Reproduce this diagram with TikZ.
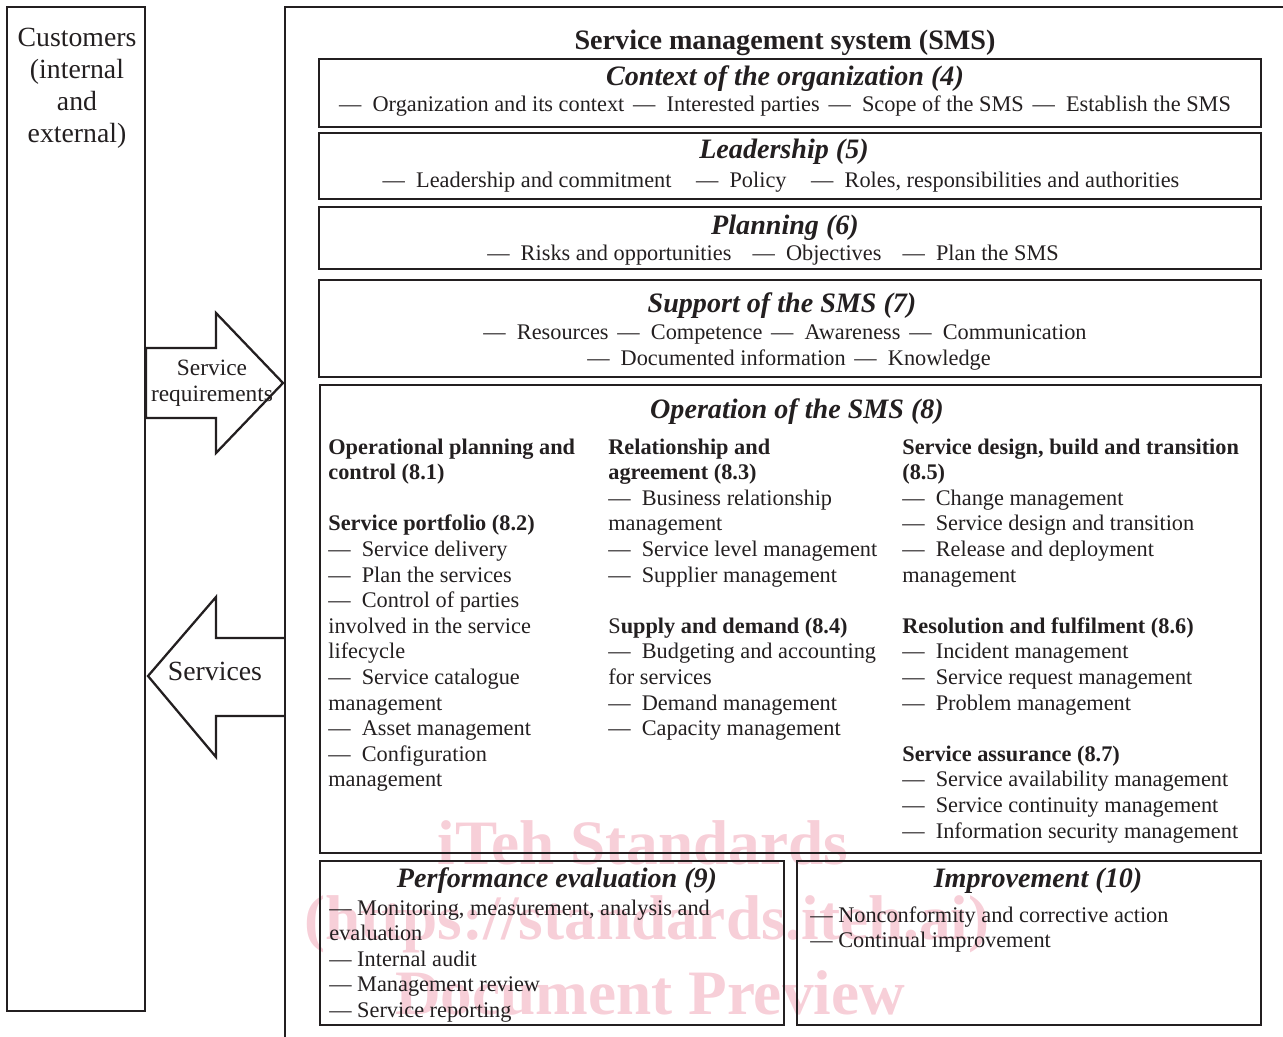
\documentclass[tikz,border=0pt]{standalone}
\usepackage{fontspec}
\setmainfont{Liberation Serif}
\usetikzlibrary{positioning}

\definecolor{ink}{RGB}{35,31,32}
\definecolor{wmpink}{RGB}{247,207,216}

\newcommand{\itm}{—\enspace}
\newcommand{\itemgap}{\hspace{5pt}}
\newcommand{\widegap}{\hspace{14pt}}

\begin{document}
\begin{tikzpicture}[x=0.02cm, y=-0.02cm]

\tikzset{box/.style = {draw=ink, line width=1.3pt}}
\tikzset{item/.style = {font=\fontsize{12.7}{14.6}\selectfont, text=ink, inner sep=0pt}}
\tikzset{title/.style = {font=\fontsize{16}{19}\selectfont\bfseries\itshape, text=ink, inner sep=0pt, anchor=base}}
\tikzset{label/.style = {font=\fontsize{15.8}{18}\selectfont, text=ink, inner sep=0pt, anchor=base}}
\tikzset{wmark/.style = {font=\fontsize{36}{42}\selectfont\bfseries, text=wmpink, inner sep=0pt, anchor=base}}

\useasboundingbox (0,0) rectangle (1283,1036);
\clip (0,0) rectangle (1283,1036);

% watermark
\node[wmark] (wm1) at (643,864) {iTeh Standards};
\node[wmark] (wm2) at (647,939) {(https://standards.iteh.ai)};
\node[wmark] (wm3) at (650,1014) {Document Preview};

% frames
\draw[box] (7,7) rectangle (145,1011);
\draw[box] (285,7) rectangle (1300,1060);

% clause boxes
\draw[box] (319,59) rectangle (1261,127);
\draw[box] (319,133) rectangle (1261,199);
\draw[box] (319,207) rectangle (1261,269);
\draw[box] (319,280) rectangle (1261,377);
\draw[box] (320,385) rectangle (1261,853);
\draw[box] (320,861) rectangle (784,1025);
\draw[box] (797,861) rectangle (1261,1025);

% arrows
\draw[box] (146,348) -- (216,348) -- (216,313) -- (283,383) -- (216,453) -- (216,418) -- (146,418) -- cycle;
\draw[box] (285,638) -- (216,638) -- (216,597) -- (148,676) -- (216,757) -- (216,716) -- (285,716);

% customers
\foreach \txt [count=\i from 0] in {Customers, {(internal}, and, {external)}}
  \node[label] (cust-\i) at (77,46+32*\i) {\txt};

% arrow labels
\node[item, font=\fontsize{13.3}{15}\selectfont, anchor=base] (req1) at (212,375) {Service};
\node[item, font=\fontsize{13.3}{15}\selectfont, anchor=base] (req2) at (212,401) {requirements};
\node[label] (serv) at (215,680) {Services};

% sms
\node[title, font=\fontsize{16}{19}\selectfont\bfseries] (sms) at (785,49) {Service management system (SMS)};

% context
\node[title] (ctx) at (785,85) {Context of the organization (4)};
\node[item, anchor=base] (ctx-items) at (785,111) {\itm Organization and its context\itemgap\itm Interested parties\itemgap\itm Scope of the SMS\itemgap\itm Establish the SMS};

% leadership
\node[title] (lead) at (784,158) {Leadership (5)};
\node[item, anchor=base] (lead-items) at (781,187) {\itm Leadership and commitment\widegap\itm Policy\widegap\itm Roles, responsibilities and authorities};

% planning
\node[title] (plan) at (785,234) {Planning (6)};
\node[item, anchor=base] (plan-items) at (773,260) {\itm Risks and opportunities\hspace{12pt}\itm Objectives\hspace{12pt}\itm Plan the SMS};

% support
\node[title] (supp) at (782,312) {Support of the SMS (7)};
\node[item, anchor=base] (supp-items1) at (785,339) {\itm Resources\itemgap\itm Competence\itemgap\itm Awareness\itemgap\itm Communication};
\node[item, anchor=base] (supp-items2) at (789,365) {\itm Documented information\itemgap\itm Knowledge};

% operation
\node[title] (oper) at (797,418) {Operation of the SMS (8)};

\foreach \txt [count=\i from 0] in {
  \textbf{Operational planning and}, \textbf{control (8.1)}, {},
  \textbf{Service portfolio (8.2)}, \itm Service delivery, \itm Plan the services,
  \itm Control of parties, involved in the service, lifecycle,
  \itm Service catalogue, management, \itm Asset management,
  \itm Configuration, management}
  \node[item, anchor=base west] (opa-\i) at (328,454+25.6*\i) {\txt};

\foreach \txt [count=\i from 0] in {
  \textbf{Relationship and}, \textbf{agreement (8.3)}, \itm Business relationship,
  management, \itm Service level management, \itm Supplier management, {},
  {S\textbf{upply and demand (8.4)}}, \itm Budgeting and accounting, for services,
  \itm Demand management, \itm Capacity management}
  \node[item, anchor=base west] (opb-\i) at (608,454+25.6*\i) {\txt};

\foreach \txt [count=\i from 0] in {
  {\textbf{Service design, build and transition}}, \textbf{(8.5)},
  \itm Change management, \itm Service design and transition,
  \itm Release and deployment, management, {},
  \textbf{Resolution and fulfilment (8.6)}, \itm Incident management,
  \itm Service request management, \itm Problem management, {},
  \textbf{Service assurance (8.7)}, \itm Service availability management,
  \itm Service continuity management, \itm Information security management}
  \node[item, anchor=base west] (opc-\i) at (902,454+25.6*\i) {\txt};

% performance evaluation
\node[title] (perf) at (557,887) {Performance evaluation (9)};
\foreach \txt [count=\i from 0] in {
  {— Monitoring, measurement, analysis and}, evaluation,
  — Internal audit, — Management review, — Service reporting}
  \node[item, anchor=base west] (perf-\i) at (329,915+25.5*\i) {\txt};

% improvement
\node[title] (impr) at (1038,887) {Improvement (10)};
\foreach \txt [count=\i from 0] in {— Nonconformity and corrective action, — Continual improvement}
  \node[item, anchor=base west] (impr-\i) at (810,922+25.8*\i) {\txt};

\end{tikzpicture}
\end{document}
